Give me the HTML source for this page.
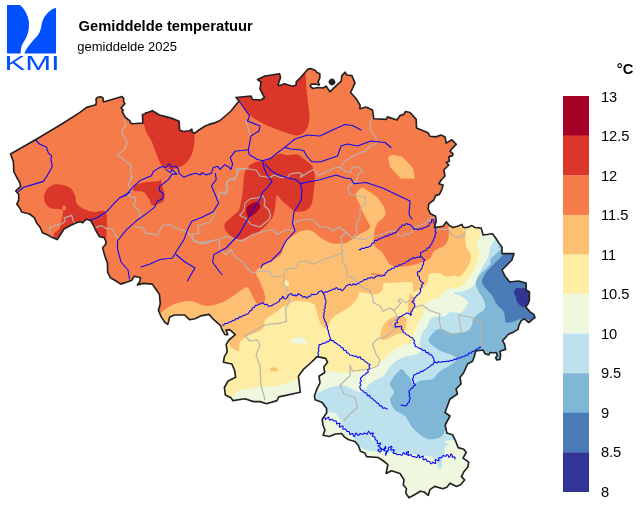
<!DOCTYPE html>
<html lang="nl"><head><meta charset="utf-8"><title>Gemiddelde temperatuur</title>
<style>
html,body{margin:0;padding:0;background:#fff;}
body{width:640px;height:507px;overflow:hidden;position:relative;font-family:"Liberation Sans",sans-serif;}
svg{position:absolute;left:0;top:0;display:block;will-change:transform}
text{font-family:"Liberation Sans",sans-serif;fill:#000}
</style></head><body>
<svg width="640" height="507" viewBox="0 0 640 507">
<rect width="640" height="507" fill="#fff"/>
<defs><clipPath id="be"><path d="M10.5 154.0 L35.0 140.0 L61.0 124.5 L80.0 112.4 L86.6 107.4 L95.9 104.7 L96.4 101.4 L95.9 99.2 L97.5 97.3 L100.8 96.8 L103.0 97.9 L103.5 102.0 L122.1 96.5 L123.8 98.7 L123.5 101.4 L124.9 103.6 L121.0 108.0 L123.2 110.2 L122.1 111.8 L123.8 114.5 L125.4 117.3 L128.1 119.5 L129.8 120.6 L130.3 122.7 L132.5 123.8 L142.9 123.1 L142.4 114.5 L145.1 114.0 L145.6 112.9 L148.4 112.3 L152.3 110.7 L159.4 115.0 L165.7 116.6 L173.6 118.9 L179.1 121.3 L179.6 130.0 L183.1 131.5 L189.4 130.8 L191.8 129.2 L192.2 132.3 L194.9 133.1 L198.9 130.0 L205.2 126.0 L209.1 124.4 L214.6 122.9 L220.0 120.5 L231.0 111.0 L239.0 101.0 L236.0 97.5 L251.0 96.0 L252.5 99.5 L261.0 100.0 L264.5 97.5 L260.0 89.0 L261.0 82.0 L257.5 79.5 L265.0 76.0 L279.5 73.7 L280.5 77.5 L278.0 85.0 L280.0 85.6 L284.4 83.8 L292.5 86.2 L296.2 85.0 L296.2 81.9 L300.6 77.5 L305.0 72.5 L307.5 69.4 L310.6 68.5 L315.6 70.6 L316.9 72.5 L319.8 73.8 L319.8 78.1 L318.1 81.9 L319.4 85.0 L315.0 84.0 L311.0 84.2 L310.3 86.3 L313.0 88.5 L318.0 87.5 L323.0 88.0 L326.2 86.2 L330.0 91.9 L335.0 86.9 L341.2 81.2 L341.9 75.6 L345.0 72.2 L346.9 75.0 L351.9 75.6 L355.0 83.1 L350.6 92.5 L356.2 98.8 L360.0 105.0 L360.0 108.8 L366.0 107.0 L372.5 110.0 L373.8 118.8 L386.2 119.4 L387.5 116.9 L396.9 120.0 L400.0 115.6 L403.8 114.4 L405.6 111.5 L410.0 112.5 L416.2 119.4 L416.5 128.1 L428.1 132.8 L429.8 136.2 L435.6 136.9 L441.2 135.0 L445.0 136.9 L446.2 143.1 L451.9 139.8 L456.2 144.4 L452.5 148.1 L450.0 151.2 L453.1 153.8 L452.5 155.6 L448.8 156.9 L449.4 161.2 L446.2 162.5 L448.8 165.0 L443.8 170.0 L445.0 176.0 L441.2 180.0 L438.8 183.8 L443.1 185.0 L441.9 189.4 L439.4 194.4 L435.6 195.6 L433.8 200.0 L428.8 203.8 L428.1 208.8 L430.6 213.8 L435.6 216.2 L436.2 221.2 L434.4 227.5 L438.8 226.9 L443.1 226.2 L446.2 221.9 L449.4 225.6 L453.1 227.5 L457.5 226.2 L461.9 224.4 L463.1 227.5 L467.5 227.5 L471.9 225.6 L475.0 227.5 L481.2 228.1 L483.1 235.0 L492.5 233.8 L496.2 238.8 L498.8 243.0 L502.0 247.0 L502.0 253.6 L514.0 253.6 L511.9 260.0 L502.0 270.0 L505.3 276.6 L509.7 282.0 L518.4 281.0 L526.1 283.0 L526.1 289.7 L529.4 291.9 L529.4 298.4 L529.4 300.0 L528.1 303.8 L525.6 306.9 L530.0 311.9 L533.8 314.4 L535.0 317.5 L532.5 319.4 L528.8 322.5 L524.4 318.8 L521.2 320.6 L518.8 325.6 L518.1 329.4 L513.8 331.9 L508.1 334.4 L505.6 337.5 L502.5 340.6 L504.4 343.8 L505.6 349.4 L500.0 351.2 L500.6 355.6 L500.0 359.4 L496.9 360.0 L495.6 357.5 L497.5 355.6 L496.2 352.5 L493.1 352.8 L490.0 352.5 L488.8 355.0 L485.0 353.8 L483.1 350.0 L475.6 351.0 L474.4 356.2 L472.5 361.2 L467.5 364.0 L463.8 372.5 L460.0 377.5 L461.0 384.0 L456.0 389.0 L457.5 394.0 L450.0 399.0 L445.0 412.5 L450.0 416.0 L445.2 425.0 L446.8 433.0 L452.5 434.7 L455.7 441.2 L458.2 447.6 L463.8 449.2 L466.2 452.5 L463.0 458.1 L468.7 462.2 L467.9 467.0 L463.8 471.8 L461.4 476.7 L464.6 479.9 L460.6 484.8 L456.5 486.4 L450.1 483.2 L446.8 487.2 L442.8 488.8 L434.7 486.4 L429.9 489.6 L428.3 495.3 L424.2 492.0 L420.2 491.2 L413.7 495.3 L408.9 497.7 L405.7 492.9 L406.5 488.8 L403.2 484.8 L404.0 479.9 L400.0 473.5 L391.5 470.8 L386.1 473.5 L387.0 469.0 L387.9 464.6 L383.5 461.0 L378.1 457.5 L366.6 456.6 L364.8 453.0 L360.4 451.3 L358.6 445.9 L355.1 441.5 L348.8 439.7 L344.4 437.1 L341.7 433.5 L335.5 434.0 L329.3 436.5 L323.1 435.3 L324.9 430.0 L323.1 425.5 L322.2 419.3 L326.6 413.1 L326.6 408.6 L322.2 402.4 L315.1 399.8 L314.4 396.0 L317.2 388.4 L320.0 382.8 L319.0 376.2 L324.7 372.5 L323.8 366.9 L327.5 362.2 L325.6 358.4 L317.2 356.6 L310.6 363.0 L303.1 369.7 L298.4 376.2 L300.3 392.2 L278.8 396.9 L276.9 400.6 L266.6 403.8 L260.0 401.6 L253.4 401.6 L245.0 398.8 L232.8 400.6 L231.0 397.8 L225.3 395.0 L224.4 387.5 L228.1 381.0 L235.6 377.2 L234.7 370.6 L231.9 364.0 L223.4 362.2 L224.4 356.6 L227.2 351.9 L226.2 344.4 L229.0 340.0 L235.3 334.7 L229.7 329.6 L226.0 330.0 L227.8 334.7 L225.0 334.7 L222.2 330.0 L220.3 325.3 L213.8 319.7 L209.0 314.4 L200.6 315.9 L195.0 318.8 L189.4 319.7 L184.7 315.0 L174.4 315.0 L169.7 316.9 L167.8 324.4 L165.0 322.5 L161.2 316.9 L158.4 310.3 L160.3 303.8 L159.4 294.4 L156.2 289.7 L152.3 284.1 L143.6 283.4 L137.3 284.9 L139.7 281.8 L140.5 277.8 L134.2 276.3 L131.8 280.2 L127.9 281.8 L120.8 284.1 L116.0 281.0 L110.5 277.8 L107.7 272.3 L107.4 262.9 L105.0 256.5 L102.6 247.9 L105.8 243.9 L105.8 240.8 L104.2 237.6 L99.5 236.8 L97.1 232.9 L93.2 225.0 L90.7 220.5 L86.0 219.2 L82.8 222.8 L80.5 221.7 L76.5 222.8 L71.0 225.2 L64.0 229.0 L61.5 233.0 L57.2 239.6 L52.3 237.6 L47.3 234.7 L42.4 232.7 L40.4 227.8 L36.5 222.8 L34.5 217.9 L29.6 214.0 L21.7 212.0 L19.7 208.0 L16.8 204.1 L18.7 200.2 L18.7 194.2 L15.8 190.9 L20.7 186.4 L19.7 182.4 L16.8 177.5 L13.8 171.6 L13.4 161.7Z"/></clipPath></defs>
<g clip-path="url(#be)">
<rect x="0" y="60" width="560" height="447" fill="#f67b4a"/>
<path d="M236.5 99.0 C239.0 104.4 238.8 101.1 240.0 102.5 C241.2 103.9 242.2 105.7 243.6 107.6 C245.0 109.5 246.5 112.1 248.3 113.9 C250.1 115.8 252.7 117.4 254.6 118.7 C256.6 120.0 258.1 120.8 260.0 121.8 C261.9 122.8 261.8 123.2 266.0 125.0 C270.2 126.8 279.8 130.8 285.0 132.5 C290.2 134.2 294.0 135.9 297.5 135.5 C301.0 135.1 304.0 132.8 306.0 130.0 C308.0 127.2 309.1 123.3 309.5 119.0 C309.9 114.7 308.7 108.8 308.2 104.0 C307.7 99.2 307.0 95.0 306.6 90.0 C306.2 85.0 305.8 79.8 305.6 74.0 C305.4 68.2 311.7 60.7 305.4 55.0 C299.1 49.3 281.4 37.5 268.0 40.0 C254.6 42.5 230.2 60.2 225.0 70.0 C219.8 79.8 234.0 93.6 236.5 99.0Z" fill="#da372a"/>
<path d="M143.7 105.0 C135.5 108.9 143.9 122.4 145.2 128.4 C146.5 134.4 149.7 136.8 151.5 141.0 C153.3 145.2 154.9 149.9 156.3 153.6 C157.8 157.3 158.9 160.9 160.2 163.1 C161.5 165.3 162.5 165.9 164.2 167.0 C165.9 168.1 168.4 169.2 170.5 169.4 C172.6 169.6 174.7 168.8 176.8 168.1 C178.9 167.4 181.1 166.8 183.1 165.5 C185.1 164.2 187.0 162.2 188.6 160.0 C190.2 157.8 191.6 155.2 192.6 152.0 C193.6 148.8 194.1 145.0 194.4 141.0 C194.7 137.0 194.6 134.0 194.6 128.0 C194.6 122.0 203.1 108.8 194.6 105.0 C186.1 101.2 151.9 101.1 143.7 105.0Z" fill="#da372a"/>
<path d="M244.4 173.4 C245.2 170.4 246.4 168.3 248.4 166.3 C250.4 164.3 253.4 162.5 256.3 161.6 C259.2 160.7 263.1 161.5 265.7 160.8 C268.3 160.1 269.6 158.8 272.0 157.6 C274.4 156.4 277.4 154.1 280.0 153.7 C282.6 153.3 284.9 155.2 287.8 155.3 C290.7 155.4 294.4 153.7 297.3 154.5 C300.2 155.3 302.7 158.0 305.2 160.0 C307.7 162.0 310.7 163.8 312.3 166.3 C313.9 168.8 314.3 171.7 314.6 175.0 C314.9 178.3 314.7 181.5 314.3 186.0 C313.9 190.5 313.2 198.1 312.3 201.8 C311.4 205.5 310.6 206.4 309.1 208.0 C307.7 209.6 306.0 210.7 303.6 211.2 C301.2 211.7 297.5 212.1 294.9 211.2 C292.3 210.3 289.9 207.4 287.8 205.7 C285.7 204.0 284.1 202.7 282.3 201.0 C280.5 199.3 277.9 194.8 276.8 195.5 C275.7 196.2 276.0 201.8 275.5 205.0 C275.0 208.2 274.5 211.7 273.6 214.4 C272.7 217.1 272.3 218.2 270.0 221.0 C267.7 223.8 263.8 228.3 260.0 231.0 C256.2 233.7 251.2 235.6 247.5 237.0 C243.8 238.4 240.8 240.2 237.5 239.5 C234.2 238.8 229.7 235.5 227.5 233.0 C225.3 230.5 223.7 227.3 224.5 224.5 C225.3 221.7 230.2 218.5 232.6 216.0 C235.0 213.5 237.4 212.9 239.0 209.7 C240.6 206.5 241.3 201.2 242.0 197.0 C242.7 192.8 242.9 188.3 243.3 184.4 C243.7 180.5 243.6 176.4 244.4 173.4Z" fill="#da372a"/>
<path d="M44.2 196.0 C44.6 193.3 45.9 190.0 48.0 188.0 C50.1 186.0 53.2 184.3 56.8 184.2 C60.4 184.1 66.4 185.6 69.4 187.4 C72.4 189.2 73.8 192.6 75.0 195.2 C76.2 197.8 75.3 201.0 76.5 203.1 C77.7 205.2 79.2 206.4 82.0 207.9 C84.8 209.4 89.1 211.1 93.1 211.8 C97.0 212.5 103.5 208.9 105.7 212.3 C107.9 215.7 106.4 227.9 106.5 232.0 C106.6 236.1 107.2 235.6 106.3 237.0 C105.4 238.4 102.9 239.8 101.0 240.5 C99.1 241.2 96.8 242.8 95.0 241.0 C93.2 239.2 91.5 232.5 90.0 230.0 C88.5 227.5 89.3 225.7 86.0 226.0 C82.7 226.3 74.8 228.8 70.0 232.0 C65.2 235.2 59.7 244.6 57.0 245.0 C54.3 245.4 53.3 237.3 53.7 234.7 C54.1 232.0 57.9 231.5 59.2 229.1 C60.5 226.7 60.9 223.4 61.5 220.5 C62.1 217.6 63.1 213.7 63.1 211.8 C63.1 210.0 63.4 209.9 61.5 209.4 C59.6 208.9 54.6 209.5 52.0 208.6 C49.4 207.7 47.1 206.0 45.8 203.9 C44.5 201.8 43.8 198.7 44.2 196.0Z" fill="#da372a"/>
<path d="M62.2 207.0 C62.4 206.3 63.4 205.6 64.0 205.6 C64.6 205.6 65.8 206.3 66.0 207.0 C66.2 207.7 66.0 209.0 65.5 209.5 C65.0 210.0 63.5 210.4 63.0 210.0 C62.5 209.6 62.0 207.7 62.2 207.0Z" fill="#f67b4a"/>
<path d="M133.4 190.5 C133.0 189.6 133.3 187.1 135.0 185.8 C136.7 184.5 139.8 183.4 143.7 182.6 C147.6 181.8 155.7 181.7 158.6 181.0 C161.5 180.3 160.5 178.0 161.0 178.7 C161.5 179.4 161.3 182.8 161.8 185.0 C162.3 187.2 163.8 189.5 164.2 192.0 C164.6 194.5 164.9 198.2 164.2 200.0 C163.5 201.8 162.2 202.2 160.2 203.1 C158.2 204.0 154.1 206.2 152.3 205.5 C150.5 204.8 150.6 201.4 149.2 199.2 C147.8 196.9 145.7 193.3 143.7 192.0 C141.7 190.7 139.1 191.6 137.4 191.3 C135.7 191.1 133.8 191.4 133.4 190.5Z" fill="#da372a"/>
<path d="M246.8 207.3 C247.7 205.7 250.6 204.3 252.3 203.4 C254.0 202.5 255.7 201.7 257.0 202.0 C258.3 202.3 259.8 203.8 260.2 205.0 C260.6 206.2 260.4 207.3 259.4 208.9 C258.3 210.5 255.7 213.1 253.9 214.4 C252.1 215.7 249.6 217.1 248.4 216.8 C247.2 216.5 247.1 214.4 246.8 212.8 C246.5 211.2 245.9 208.9 246.8 207.3Z" fill="#a50026"/>
<path d="M150.0 322.0 C160.2 287.4 157.2 315.3 161.0 312.5 C164.8 309.7 167.7 306.9 172.5 305.0 C177.3 303.1 184.2 300.8 190.0 301.0 C195.8 301.2 201.7 306.0 207.5 306.0 C213.3 306.0 219.6 303.5 225.0 301.0 C230.4 298.5 236.2 293.2 240.0 291.0 C243.8 288.8 245.2 286.2 247.5 287.5 C249.8 288.8 252.3 296.2 254.0 299.0 C255.7 301.8 256.2 303.2 257.5 304.0 C258.8 304.8 260.8 304.8 262.0 304.0 C263.2 303.2 264.7 301.5 265.0 299.5 C265.3 297.5 264.8 294.9 264.0 292.0 C263.2 289.1 261.3 285.2 260.0 282.0 C258.7 278.8 256.2 275.3 256.0 273.0 C255.8 270.7 256.7 269.8 259.0 268.0 C261.3 266.2 266.3 264.2 270.0 262.0 C273.7 259.8 278.5 257.7 281.0 254.5 C283.5 251.3 283.1 246.1 285.0 243.0 C286.9 239.9 290.0 237.9 292.5 236.0 C295.0 234.1 297.4 232.5 300.0 231.5 C302.6 230.5 305.5 229.8 307.9 229.9 C310.3 230.0 312.1 231.0 314.2 232.3 C316.3 233.6 317.6 236.0 320.5 237.8 C323.4 239.6 327.6 242.4 331.5 243.3 C335.4 244.2 341.0 243.8 344.2 243.3 C347.4 242.8 347.9 241.8 350.5 240.2 C353.1 238.6 357.0 235.6 359.9 233.9 C362.8 232.2 366.1 231.2 367.8 229.9 C369.5 228.6 370.2 227.3 370.2 226.0 C370.2 224.7 368.7 223.7 367.8 222.0 C366.9 220.3 365.8 217.8 364.7 215.7 C363.6 213.6 362.4 211.5 361.5 209.4 C360.6 207.3 360.0 205.2 359.1 203.1 C358.2 201.0 356.5 198.4 356.0 196.8 C355.5 195.2 355.4 195.0 356.0 193.7 C356.6 192.4 358.7 189.9 359.9 188.9 C361.1 187.9 362.1 187.6 363.1 187.7 C364.2 187.8 364.9 188.8 366.2 189.7 C367.5 190.6 369.4 191.8 371.0 192.9 C372.6 194.0 374.3 194.8 375.7 196.0 C377.1 197.2 378.1 198.0 379.5 200.0 C380.9 202.0 383.3 205.3 384.2 207.9 C385.1 210.5 386.2 213.2 385.0 215.8 C383.8 218.4 379.0 220.5 377.1 223.7 C375.2 226.8 374.3 231.0 373.9 234.7 C373.5 238.4 373.4 242.8 374.7 245.7 C376.0 248.6 379.7 249.5 381.8 252.0 C383.9 254.5 385.9 258.6 387.4 260.7 C388.8 262.8 388.7 263.7 390.5 264.7 C392.3 265.7 395.4 266.4 398.0 266.6 C400.6 266.9 403.6 266.5 406.3 266.2 C409.0 265.9 411.4 265.3 414.0 264.7 C416.6 264.1 419.4 263.4 422.0 262.3 C424.6 261.2 427.8 260.4 429.9 258.4 C432.0 256.4 432.3 252.6 434.7 250.5 C437.1 248.4 441.9 247.5 444.1 245.7 C446.3 243.8 447.3 241.8 448.1 239.4 C448.9 237.0 448.9 233.7 448.9 231.5 C448.9 229.3 448.3 228.2 448.1 226.0 C447.9 223.8 428.9 219.3 447.5 218.0 C466.1 216.7 541.2 167.7 560.0 218.0 C578.8 268.3 636.7 469.7 560.0 520.0 C483.3 570.3 168.3 553.0 100.0 520.0 C31.7 487.0 139.8 356.6 150.0 322.0Z" fill="#fdbf71"/>
<path d="M388.1 158.6 L389.5 155.8 L392.3 154.8 L402.2 156.7 L409.7 164.2 L413.0 168.4 L414.8 176.9 L413.9 178.8 L401.2 178.8 L390.0 167.0 L389.0 161.9Z" fill="#fdbf71"/>
<path d="M283.4 283.4 C283.5 282.3 284.9 280.4 285.8 280.3 C286.7 280.2 288.5 281.6 288.9 282.6 C289.3 283.7 288.8 285.9 288.1 286.6 C287.5 287.3 285.8 287.1 285.0 286.6 C284.2 286.1 283.3 284.4 283.4 283.4Z" fill="#feeea5"/>
<path d="M371.0 273.0 L383.0 274.2 L383.0 275.6 L371.0 274.4Z" fill="#f67b4a"/>
<path d="M220.0 344.0 C225.2 315.2 228.5 346.5 231.0 347.5 C233.5 348.5 233.7 349.4 235.0 350.0 C236.3 350.6 238.2 352.2 239.0 351.0 C239.8 349.8 238.6 345.0 240.0 342.5 C241.4 340.0 243.8 338.2 247.5 336.0 C251.2 333.8 259.6 331.7 262.5 329.0 C265.4 326.3 263.8 322.1 265.0 320.0 C266.2 317.9 267.6 318.3 270.0 316.5 C272.4 314.7 276.1 311.6 279.5 309.4 C282.9 307.1 287.6 304.4 290.5 303.0 C293.4 301.6 293.7 301.1 296.8 301.0 C299.9 300.9 306.4 301.6 309.4 302.3 C312.4 303.1 313.7 303.6 315.0 305.5 C316.3 307.4 316.4 311.0 317.3 314.0 C318.2 317.0 319.3 321.2 320.5 323.6 C321.7 326.0 323.2 327.9 324.4 328.4 C325.6 328.9 326.6 328.1 327.6 326.8 C328.7 325.5 329.3 322.5 330.7 320.5 C332.1 318.5 333.7 316.9 336.2 315.0 C338.7 313.1 342.8 311.4 345.7 309.4 C348.6 307.4 351.5 305.2 353.6 303.0 C355.7 300.8 357.2 297.8 358.3 296.0 C359.4 294.2 357.9 292.6 360.0 292.3 C362.1 292.0 368.1 293.7 371.0 294.0 C373.9 294.3 375.4 294.8 377.4 294.0 C379.4 293.2 381.8 290.9 382.9 289.2 C383.9 287.5 381.2 284.8 383.7 283.7 C386.2 282.6 393.3 282.6 398.0 282.5 C402.7 282.4 409.4 281.4 412.0 282.9 C414.6 284.4 411.9 290.7 413.6 291.5 C415.3 292.3 419.9 289.2 422.3 287.6 C424.7 286.0 426.6 284.2 427.8 282.0 C429.0 279.8 427.3 275.6 429.4 274.2 C431.5 272.8 437.8 273.0 440.4 273.4 C443.0 273.8 442.8 276.2 445.2 276.6 C447.6 277.0 452.3 275.8 454.6 275.8 C456.9 275.8 457.0 277.8 458.9 276.8 C460.8 275.8 464.1 272.4 466.0 269.7 C467.9 267.0 469.7 263.5 470.4 260.8 C471.1 258.1 471.1 256.1 470.4 253.7 C469.7 251.3 466.8 249.9 466.0 246.6 C465.2 243.3 465.5 238.4 465.5 234.0 C465.5 229.6 450.2 222.3 466.0 220.0 C481.8 217.7 544.3 170.0 560.0 220.0 C575.7 270.0 620.0 470.0 560.0 520.0 C500.0 570.0 256.7 549.3 200.0 520.0 C143.3 490.7 214.8 372.8 220.0 344.0Z" fill="#feeea5"/>
<path d="M380.5 334.0 C380.8 331.5 382.1 327.3 383.7 324.7 C385.3 322.1 387.4 319.8 390.0 318.4 C392.6 316.9 396.8 316.1 399.4 316.0 C402.0 315.9 404.5 316.5 405.7 317.6 C406.9 318.7 406.5 320.8 406.5 322.5 C406.5 324.2 406.3 326.1 405.7 327.8 C405.1 329.5 404.4 331.4 402.6 332.6 C400.8 333.8 397.3 333.8 394.7 334.9 C392.1 335.9 388.9 338.1 386.8 338.9 C384.7 339.7 383.1 340.3 382.0 339.5 C380.9 338.7 380.2 336.5 380.5 334.0Z" fill="#fdbf71"/>
<path d="M410.0 293.5 C410.7 293.2 412.3 294.6 413.0 296.0 C413.7 297.4 413.9 300.1 414.2 302.0 C414.4 303.9 414.9 305.6 414.5 307.5 C414.1 309.4 412.5 312.6 411.5 313.5 C410.5 314.4 408.8 314.6 408.3 313.0 C407.8 311.4 408.2 306.7 408.3 304.2 C408.4 301.7 408.7 299.8 409.0 298.0 C409.3 296.2 409.3 293.8 410.0 293.5Z" fill="#fdbf71"/>
<path d="M270.5 368.5 C271.1 367.9 272.8 367.5 274.0 367.5 C275.2 367.5 276.9 367.9 277.5 368.5 C278.1 369.1 278.7 370.6 277.5 371.0 C276.3 371.4 271.7 371.4 270.5 371.0 C269.3 370.6 269.9 369.1 270.5 368.5Z" fill="#fdbf71"/>
<path d="M225.0 400.0 C226.5 396.0 231.5 397.7 234.0 396.0 C236.5 394.3 236.1 391.4 240.0 390.0 C243.9 388.6 250.8 388.3 257.5 387.5 C264.2 386.7 273.8 386.2 280.0 385.0 C286.2 383.8 291.7 381.2 295.0 380.0 C298.3 378.8 298.5 378.7 300.0 377.5 C301.5 376.3 303.3 365.9 304.0 373.0 C304.7 380.1 317.2 412.2 304.0 420.0 C290.8 427.8 238.2 423.3 225.0 420.0 C211.8 416.7 223.5 404.0 225.0 400.0Z" fill="#eef8df"/>
<path d="M291.3 341.0 C291.6 340.1 293.2 338.3 295.2 337.8 C297.2 337.3 301.1 337.1 303.1 337.8 C305.1 338.5 307.0 340.8 307.1 341.8 C307.2 342.8 306.1 343.6 303.9 343.8 C301.7 344.1 295.8 343.8 293.7 343.3 C291.6 342.8 291.1 341.9 291.3 341.0Z" fill="#eef8df"/>
<path d="M318.0 368.0 C322.2 363.0 321.3 369.2 325.0 370.0 C328.7 370.8 333.3 372.3 340.0 372.5 C346.7 372.7 358.3 372.7 365.0 371.0 C371.7 369.3 375.8 365.5 380.0 362.5 C384.2 359.5 386.5 355.8 390.0 353.0 C393.5 350.2 397.3 347.8 401.0 346.0 C404.7 344.2 409.8 344.2 412.0 342.0 C414.2 339.8 412.9 336.2 414.0 333.0 C415.1 329.8 416.9 326.1 418.4 323.0 C419.9 319.9 421.9 317.3 423.0 314.4 C424.1 311.5 423.6 307.9 424.7 305.7 C425.8 303.5 427.0 302.3 429.4 301.0 C431.8 299.7 436.8 299.1 438.9 297.9 C441.0 296.7 440.4 295.5 442.0 294.0 C443.6 292.5 446.1 289.8 448.3 288.9 C450.5 287.9 452.7 289.1 455.3 288.3 C457.9 287.5 461.5 286.4 464.2 283.9 C466.9 281.4 469.2 276.6 471.3 273.3 C473.4 270.1 475.3 267.8 476.6 264.4 C477.9 261.0 479.3 256.1 479.3 252.8 C479.3 249.6 476.8 247.6 476.8 244.9 C476.9 242.2 479.0 239.7 479.6 236.9 C480.2 234.1 480.4 230.8 480.6 228.0 C480.8 225.2 467.8 221.3 481.0 220.0 C494.2 218.7 546.8 170.0 560.0 220.0 C573.2 270.0 603.3 470.0 560.0 520.0 C516.7 570.0 343.3 540.0 300.0 520.0 C256.7 500.0 297.0 425.3 300.0 400.0 C303.0 374.7 313.8 373.0 318.0 368.0Z" fill="#eef8df"/>
<path d="M310.0 400.0 C311.2 396.9 314.6 395.4 317.5 393.5 C320.4 391.6 324.4 389.8 327.5 388.5 C330.6 387.2 333.6 386.6 336.0 386.0 C338.4 385.4 339.7 384.7 342.0 385.0 C344.3 385.3 347.1 386.8 350.0 388.0 C352.9 389.2 356.9 391.8 359.4 392.0 C361.9 392.2 363.1 390.5 365.0 389.0 C366.9 387.5 368.5 384.6 370.5 383.0 C372.5 381.4 374.8 380.7 377.0 379.5 C379.2 378.3 381.8 377.6 383.5 376.0 C385.2 374.4 386.1 371.9 387.5 370.0 C388.9 368.1 390.3 366.1 392.0 364.5 C393.7 362.9 395.3 361.6 397.5 360.3 C399.7 359.0 402.6 357.5 405.0 356.7 C407.4 355.9 409.8 355.8 412.0 355.3 C414.2 354.8 416.5 354.5 418.0 353.5 C419.5 352.5 420.7 351.1 421.0 349.5 C421.3 347.9 420.1 345.7 420.0 344.0 C419.9 342.3 419.8 341.6 420.3 339.4 C420.8 337.2 422.0 332.9 423.0 331.0 C424.0 329.1 424.9 329.9 426.2 327.8 C427.5 325.7 429.0 320.3 431.0 318.4 C433.0 316.5 435.5 316.9 438.0 316.5 C440.5 316.1 444.0 316.8 446.0 316.0 C448.0 315.2 447.7 312.5 450.0 312.0 C452.3 311.5 457.7 313.2 460.0 312.8 C462.3 312.4 462.4 311.2 463.8 309.4 C465.1 307.5 468.3 303.9 467.8 301.7 C467.3 299.5 462.9 297.8 460.7 296.3 C458.5 294.8 453.8 293.7 454.4 292.8 C455.0 291.9 460.9 292.2 464.2 291.0 C467.5 289.8 471.6 288.4 474.0 285.7 C476.4 283.0 476.9 278.2 478.4 275.0 C479.9 271.8 481.2 269.1 482.8 266.2 C484.4 263.2 487.0 260.3 488.2 257.3 C489.4 254.3 489.0 251.2 490.0 248.4 C491.0 245.6 492.7 242.5 494.4 240.4 C496.1 238.3 489.1 236.7 500.0 236.0 C510.9 235.3 550.0 202.0 560.0 236.0 C570.0 270.0 577.7 406.0 560.0 440.0 C542.3 474.0 472.6 439.3 454.0 440.0 C435.4 440.7 450.0 443.1 448.5 444.4 C447.0 445.7 445.7 445.8 445.0 447.6 C444.3 449.4 444.8 453.0 444.4 455.0 C443.9 457.0 442.7 457.7 442.3 459.7 C441.9 461.7 442.4 465.5 442.0 467.0 C441.6 468.5 440.4 468.7 439.6 468.6 C438.9 468.5 437.9 467.7 437.5 466.2 C437.1 464.7 438.3 461.3 437.2 459.7 C436.1 458.1 433.4 457.2 430.7 456.5 C428.0 455.8 424.5 456.2 421.0 455.7 C417.5 455.2 414.0 453.8 409.7 453.3 C405.4 452.9 401.2 453.4 395.0 453.0 C388.8 452.6 378.2 451.9 372.5 451.0 C366.8 450.1 364.3 450.0 361.0 447.5 C357.7 445.0 355.6 439.9 352.5 436.0 C349.4 432.1 345.2 427.7 342.5 424.0 C339.8 420.3 338.5 415.9 336.0 414.0 C333.5 412.1 331.8 412.8 327.5 412.5 C323.2 412.2 312.9 414.1 310.0 412.0 C307.1 409.9 308.8 403.1 310.0 400.0Z" fill="#bde2ee"/>
<path d="M369.0 434.0 L372.0 434.0 L375.0 440.0 L372.0 440.0Z" fill="#eef8df"/>
<path d="M454.0 292.0 L460.0 292.0 L460.0 294.0 L454.0 294.0Z" fill="#bde2ee"/>
<path d="M503.0 246.0 C493.1 246.6 501.9 247.9 500.6 249.3 C499.3 250.7 496.9 253.0 495.3 254.6 C493.7 256.2 491.7 257.4 490.8 259.0 C489.9 260.6 491.2 262.3 489.9 264.4 C488.6 266.5 484.7 269.4 482.8 271.5 C480.9 273.6 479.6 274.7 478.4 276.8 C477.2 278.9 475.5 281.2 475.7 283.9 C475.9 286.6 478.0 290.1 479.3 292.8 C480.6 295.5 482.8 297.2 483.7 299.9 C484.6 302.6 486.2 305.9 484.6 308.8 C483.0 311.7 476.1 314.9 474.0 317.5 C471.9 320.1 473.1 322.4 472.0 324.7 C470.9 326.9 470.5 329.6 467.3 331.0 C464.1 332.4 457.5 333.8 453.0 333.4 C448.5 333.0 443.9 328.7 440.5 328.7 C437.1 328.7 434.6 331.4 432.6 333.4 C430.6 335.4 428.3 338.3 428.6 340.5 C428.9 342.7 432.0 345.0 434.2 346.8 C436.4 348.6 439.1 350.2 442.0 351.5 C444.9 352.8 449.1 353.5 451.5 354.7 C453.9 355.9 455.9 357.2 456.2 358.6 C456.4 360.1 455.1 361.7 453.0 363.4 C450.9 365.1 446.2 367.2 443.6 368.9 C441.0 370.6 439.1 371.9 437.3 373.6 C435.5 375.3 435.5 377.8 432.6 379.0 C429.7 380.2 423.0 379.8 420.0 380.7 C417.0 381.6 415.7 384.3 414.4 384.7 C413.1 385.1 412.7 384.1 412.0 383.0 C411.3 381.9 411.0 379.6 410.0 378.0 C409.0 376.4 407.2 375.1 405.8 373.6 C404.4 372.1 403.4 368.9 401.8 368.9 C400.2 368.9 398.0 371.8 396.3 373.6 C394.6 375.5 392.7 378.1 391.6 380.0 C390.6 381.9 389.6 382.9 390.0 385.0 C390.4 387.1 394.0 390.0 394.0 392.5 C394.0 395.0 389.8 397.1 390.0 400.0 C390.2 402.9 392.5 407.3 395.0 410.0 C397.5 412.7 402.4 413.5 405.0 416.0 C407.6 418.5 408.9 422.7 410.5 425.0 C412.1 427.3 412.8 428.1 414.5 429.8 C416.2 431.6 418.6 433.9 421.0 435.5 C423.4 437.1 426.0 438.8 429.0 439.2 C432.0 439.6 436.4 438.8 438.8 437.9 C441.2 437.0 442.2 435.3 443.6 433.9 C445.0 432.5 442.6 430.5 447.0 429.5 C451.4 428.5 451.2 428.2 470.0 428.0 C488.8 427.8 545.0 458.3 560.0 428.0 C575.0 397.7 569.5 276.3 560.0 246.0 C550.5 215.7 512.9 245.4 503.0 246.0Z" fill="#80b7d6"/>
<path d="M508.0 250.0 C498.6 250.8 505.0 252.9 503.3 254.6 C501.6 256.3 499.9 258.1 498.0 260.0 C496.1 261.9 493.8 264.0 491.7 266.2 C489.6 268.4 487.1 270.6 485.5 273.3 C483.9 276.0 481.7 279.3 482.0 282.1 C482.3 284.9 485.5 287.7 487.3 290.1 C489.1 292.5 491.1 294.1 492.6 296.3 C494.1 298.5 494.7 301.3 496.2 303.4 C497.7 305.5 500.2 307.3 501.5 308.8 C502.8 310.3 503.4 311.0 504.0 312.5 C504.6 314.0 504.7 316.3 505.0 318.0 C505.3 319.7 504.8 321.8 506.0 322.5 C507.2 323.2 510.1 322.4 512.0 322.0 C513.9 321.6 515.5 320.5 517.5 320.0 C519.5 319.5 516.9 319.2 524.0 319.0 C531.1 318.8 554.0 330.5 560.0 319.0 C566.0 307.5 568.7 261.5 560.0 250.0 C551.3 238.5 517.5 249.2 508.0 250.0Z" fill="#4a7bb7"/>
<path d="M513.9 292.8 C514.0 291.5 515.1 289.1 516.6 288.3 C518.1 287.5 518.9 288.1 522.8 288.2 C526.7 288.3 537.1 286.0 540.0 289.0 C542.9 292.0 542.1 303.2 540.0 306.0 C537.9 308.8 530.1 305.8 527.2 306.0 C524.3 306.2 524.4 307.6 522.8 307.0 C521.2 306.4 518.7 304.3 517.5 302.5 C516.3 300.7 516.3 297.9 515.7 296.3 C515.1 294.7 513.8 294.1 513.9 292.8Z" fill="#313695"/>
<g fill="none" stroke="#b9b3ae" stroke-width="1.15" stroke-linejoin="round" stroke-linecap="round">
<path d="M124.0 119.0 L125.5 126.0 L122.4 129.2 L122.4 133.9 L127.1 141.8 L123.9 150.5 L117.0 154.5 L127.1 162.3 L131.8 166.2 L130.3 171.0 L132.6 177.3 L131.0 180.0 L131.8 176.3 L127.9 185.0 L131.8 188.9 L128.7 196.0 L135.0 197.6 L135.8 201.5 L133.4 205.5 L139.7 211.0 L138.9 215.0 L141.3 217.3"/>
<path d="M49.7 233.0 L49.7 227.6 L53.7 226.0 L62.3 223.6 L65.5 220.5 L64.0 218.0 L71.8 215.4 L73.4 221.3 L75.0 222.8"/>
<path d="M95.5 227.6 L101.0 225.5 L106.5 228.7 L112.0 228.7 L116.0 236.2 L118.3 237.0"/>
<path d="M246.0 121.0 L250.0 135.0"/>
<path d="M226.0 185.0 L229.0 180.0 L236.0 177.5 L239.0 169.0 L247.5 169.0 L256.0 170.0 L260.0 176.0 L270.0 177.5 L274.0 175.0 L280.0 177.5 L287.5 177.5 L290.0 174.0 L298.9 172.6 L302.0 174.2 L300.4 177.3 L305.2 174.2 L313.1 169.4 L317.8 174.2 L320.0 175.0 L327.5 171.0 L336.0 167.5 L340.0 167.5 L345.0 161.0 L355.0 155.0 L365.0 151.0 L370.0 146.0 L376.0 143.8 L376.0 137.5 L370.0 128.8 L371.0 120.0 L373.0 117.0"/>
<path d="M340.0 167.5 L345.0 171.0 L351.0 172.5 L352.5 167.0 L358.8 167.0 L362.5 171.0 L357.5 175.0 L357.5 178.8 L351.0 185.0 L347.5 187.0 L350.0 194.5 L365.0 197.0 L366.0 202.0 L360.0 209.5 L360.0 217.0 L356.0 224.5 L357.5 233.0 L352.5 238.0 L346.0 232.0 L339.0 227.0 L332.5 231.0 L327.5 227.0 L320.0 227.0 L312.5 219.5 L305.0 219.5 L294.0 222.0 L294.0 231.0 L286.0 229.5 L277.5 234.5 L272.5 229.5 L265.0 231.0 L252.5 234.5 L242.5 241.0 L235.0 239.5 L227.5 236.0 L219.0 239.5 L200.0 242.5 L192.5 239.5 L187.5 231.5 L179.0 229.5 L170.0 224.5 L162.6 225.2 L157.1 235.5 L152.3 233.9 L145.2 233.1 L142.9 227.6 L134.2 226.8"/>
<path d="M220.0 191.5 L225.5 194.7 L227.9 190.7 L226.3 182.0 L230.3 179.0 L235.0 179.7 L237.4 172.6 L235.8 168.7 L242.0 168.7 L248.4 167.9"/>
<path d="M226.0 185.0 L227.5 187.0 L226.0 192.0 L219.0 193.0 L219.0 198.0"/>
<path d="M216.0 212.0 L210.0 222.0 L197.5 226.0 L199.0 233.0 L191.0 234.5 L192.6 234.7 L193.4 241.0 L198.9 243.3 L206.8 243.3 L214.6 240.2 L219.0 239.5"/>
<path d="M239.7 215.2 L243.7 211.2 L245.2 202.6 L250.8 198.6 L257.9 197.8 L262.6 195.5 L265.0 200.2 L264.2 205.7 L268.9 209.7 L270.5 216.0 L269.0 219.5 L260.0 227.0 L251.0 224.5 L246.0 218.4 L239.7 215.2"/>
<path d="M219.0 239.5 L220.0 249.5 L226.0 254.5 L231.0 249.5 L235.0 257.0 L242.5 262.0 L246.0 267.0 L252.5 273.0 L260.0 271.0 L270.0 272.0 L272.5 277.0 L284.0 276.0 L285.0 269.5 L296.0 268.0 L299.0 262.0 L307.5 261.0 L312.5 264.5 L320.0 261.0 L342.5 253.0 L341.0 237.0 L346.0 232.0"/>
<path d="M284.0 276.0 L284.2 279.5 L283.4 285.0 L287.4 287.4 L285.8 293.7 L289.7 298.4 L288.1 304.7 L285.8 307.9 L285.8 315.7 L286.6 321.3 L277.9 323.6 L270.0 324.0 L262.5 326.0 L245.0 336.0 L250.0 341.0 L257.5 340.0 L260.0 345.0 L256.0 355.0 L260.0 366.0 L261.0 385.0 L265.0 400.0"/>
<path d="M352.5 238.0 L365.0 239.5 L370.0 236.3 L379.5 235.5 L388.9 231.5 L395.2 230.8 L398.4 235.5 L403.9 236.3 L405.5 233.1 L407.9 234.7 L412.6 231.5 L413.4 227.6 L417.3 226.8 L425.2 222.9 L431.5 217.4 L434.0 217.0"/>
<path d="M435.5 229.2 L442.6 229.2 L448.9 230.0 L452.0 235.5 L456.0 237.1 L462.3 237.1 L465.4 231.5 L464.7 228.0"/>
<path d="M342.5 253.0 L342.5 262.0 L347.3 270.0 L347.3 276.3 L353.6 277.9 L356.8 281.8 L360.7 285.8 L363.2 288.4 L368.7 289.2 L372.6 296.3 L373.4 302.6 L380.5 306.5 L382.9 311.3 L390.0 308.1 L393.9 310.5 L397.9 306.5 L401.0 302.6 L397.9 301.0 L400.2 298.6 L405.7 302.6 L412.0 299.4"/>
<path d="M393.9 310.5 L397.0 316.0 L395.5 320.0 L390.0 322.3 L390.8 325.5 L396.3 328.6 L390.8 332.6 L383.7 337.3 L377.4 338.9 L372.5 344.0 L376.0 354.0 L380.0 360.0 L377.5 366.0 L370.0 369.0 L352.5 371.0 L350.0 365.0 L350.0 376.0 L340.0 385.0 L343.8 394.0 L355.0 397.5 L357.5 407.5 L350.0 414.0 L343.8 421.0"/>
<path d="M415.2 307.3 L422.3 305.0 L429.4 310.5 L434.1 312.0 L440.0 313.8 L438.8 318.8 L441.0 328.8 L445.0 333.8 L452.5 334.5 L461.0 332.5 L460.0 322.5 L458.8 315.0 L472.5 317.5 L481.0 322.5 L481.0 345.0 L484.0 347.0"/>
</g>
<g fill="none" stroke="#0c0af2" stroke-width="1.1" stroke-linejoin="round" stroke-linecap="round">
<path d="M35.5 140.0 L39.4 144.0 L46.4 146.9 L48.3 152.8 L51.7 155.8 L50.9 159.7 L52.3 166.6 L47.3 175.5 L43.4 181.4 L33.5 184.4 L23.7 187.3 L18.7 191.3"/>
<path d="M120.0 197.6 L126.3 195.2 L132.6 187.4 L140.5 180.3 L147.6 177.3 L151.5 175.7 L153.1 171.8 L157.9 168.6 L162.6 166.2 L165.0 167.8 L169.7 163.9 L171.3 167.0 L176.0 166.2 L178.4 169.4 L179.1 173.3 L183.9 177.3 L189.4 174.9 L195.7 173.3 L200.4 174.9 L202.0 172.6 L206.0 174.9 L211.5 173.3 L213.1 167.8 L217.8 166.2 L220.0 169.4 L224.7 164.7 L228.7 167.0 L231.0 169.4 L232.6 164.0 L230.3 157.6 L235.0 151.3 L248.4 149.7 L249.2 154.5 L257.0 159.2 L262.6 160.8 L270.5 158.4 L278.4 152.0 L284.7 147.4 L295.0 139.0 L307.5 135.0 L320.0 136.0 L332.5 130.0 L345.0 124.5 L352.5 125.5 L361.0 130.0"/>
<path d="M90.7 220.2 L97.8 217.3 L106.5 211.8 L113.6 203.9 L119.1 198.4 L130.0 192.0"/>
<path d="M239.0 101.0 L246.0 111.0 L249.5 116.0 L247.5 121.0 L260.0 126.0 L259.0 131.0 L251.0 136.0 L248.4 149.7"/>
<path d="M284.7 147.4 L291.0 149.0 L298.9 149.7 L303.6 150.5 L306.8 156.0 L311.5 161.6 L320.0 162.0 L337.5 156.0 L341.0 146.0 L347.5 144.0 L357.5 146.0 L371.0 141.0 L385.0 142.5 L391.0 147.5"/>
<path d="M165.7 169.4 L170.5 172.6 L172.0 169.4 L176.8 174.1 L172.0 174.1 L168.9 178.9 L165.7 181.8 L159.4 186.6 L159.4 190.5 L163.4 193.7 L162.6 198.4 L157.1 201.5 L154.7 207.1 L146.8 213.4 L135.8 221.3 L126.3 229.9 L117.5 241.0 L117.5 248.9 L121.0 262.0 L128.0 270.0 L129.5 279.0"/>
<path d="M141.0 267.0 L150.0 264.0 L160.0 259.5 L172.5 258.0 L176.0 252.0 L184.0 239.5 L187.8 229.1 L191.8 221.3 L202.0 217.3 L213.1 211.8 L218.6 203.1 L215.4 195.2 L211.5 185.8 L216.2 179.5 L215.4 173.3"/>
<path d="M176.0 254.5 L185.0 262.0 L195.0 268.0 L191.0 274.5 L187.5 281.0"/>
<path d="M262.6 160.8 L264.2 168.7 L267.3 175.0 L272.0 181.3 L267.3 187.6 L262.6 192.3 L259.4 200.2 L253.9 208.0 L247.5 219.5 L239.0 234.5 L226.0 248.0 L214.0 254.5 L212.5 262.0 L219.0 271.0 L222.0 274.5"/>
<path d="M265.0 164.0 L270.5 170.2 L276.8 174.2 L287.8 178.0 L295.7 179.7 L300.4 183.6 L308.3 182.0 L320.0 179.7 L336.0 175.0 L345.0 178.0 L351.0 178.8 L353.8 183.8 L366.0 182.5 L382.5 188.0 L410.0 201.0 L409.0 214.5 L412.0 219.0"/>
<path d="M300.4 183.6 L302.0 190.7 L301.2 200.2 L294.0 212.0 L292.5 223.0 L295.0 231.0 L286.0 241.0 L280.0 252.0 L271.0 261.0 L262.5 264.5 L261.0 268.0"/>
<path d="M359.0 249.5 L360.2 249.9 L361.0 248.9 L361.8 248.1 L363.0 248.5 L364.1 248.5 L365.0 247.8 L365.9 247.4 L367.0 247.4 L368.0 247.2 L369.0 246.7 L369.9 246.3 L370.8 245.8 L371.6 245.1 L371.7 243.9 L372.4 243.1 L373.8 242.9 L374.3 242.1 L374.4 240.5 L375.5 240.3 L376.7 240.6 L377.6 240.0 L378.3 239.2 L379.3 238.9 L380.3 238.8 L381.2 238.3 L382.1 237.8 L383.0 237.4 L384.0 237.3 L384.9 236.8 L385.7 235.9 L386.6 235.7 L387.9 236.1 L388.7 235.5 L389.3 234.3 L390.3 234.2 L391.6 234.6 L392.4 234.0 L393.1 233.0 L394.1 232.9 L395.2 232.9 L396.1 232.4 L396.6 231.4 L397.3 230.7 L398.2 230.1 L398.8 229.2 L399.2 228.1 L400.1 227.5 L401.2 227.2 L401.5 226.0 L402.2 225.0 L403.4 225.3 L404.6 225.5 L405.2 224.4 L406.0 223.6 L407.1 223.7 L408.0 224.4 L409.1 224.4 L410.1 224.7 L411.0 225.2 L411.5 226.1 L412.4 226.7 L413.1 227.4 L413.4 228.5 L414.0 229.6 L415.2 228.8 L416.3 228.7 L417.4 229.7 L418.4 229.6 L419.4 228.7 L420.5 228.9 L421.5 229.2 L422.3 228.7 L423.1 228.0 L424.0 227.6 L424.9 227.5 L425.8 227.2 L426.6 226.6 L427.4 226.2 L428.5 226.1 L429.2 225.4 L429.4 224.4 L429.5 223.3 L430.5 222.8 L431.6 222.4 L431.7 221.3 L431.5 220.1 L432.4 219.6 L433.0 219.4 L433.1 219.9 L433.9 220.7 L433.9 221.7 L433.9 222.7 L434.2 223.7 L434.7 224.6 L434.9 225.5 L434.8 226.5 L435.0 227.5 L435.8 228.4 L435.8 229.4 L435.0 230.5 L435.1 231.6 L436.1 232.6 L435.8 233.6 L434.9 234.6 L435.0 235.5 L435.2 236.6 L434.6 237.5 L433.9 238.2 L433.7 239.2 L433.6 240.1 L433.2 241.0 L432.4 241.8 L431.9 242.8 L431.8 243.9 L431.1 244.7 L430.0 245.3 L429.8 246.4 L429.6 247.7 L428.4 247.9 L427.1 248.0 L426.8 249.2 L426.3 250.2 L425.2 250.5 L424.1 250.7 L423.3 251.5 L422.4 252.0 L421.4 252.3 L420.4 252.7 L420.6 253.8 L420.8 254.8 L420.3 255.8 L420.1 257.0 L421.4 257.1 L422.4 257.2 L422.8 258.2 L423.3 259.2 L424.2 259.2 L424.8 260.2 L424.1 261.1 L423.4 262.0 L423.6 263.1 L423.5 264.1 L423.0 264.9 L422.5 265.8 L422.2 266.7 L422.1 267.7 L421.8 268.5 L421.1 269.2 L420.4 269.9 L420.1 271.1 L419.3 271.7 L417.9 271.6 L417.3 272.5 L417.4 273.5 L417.7 274.0 L417.6 275.3 L418.3 276.0 L419.3 276.5 L419.5 277.5 L419.4 278.6 L419.7 279.5 L420.1 280.4 L420.8 281.0 L421.4 281.8 L422.1 282.5 L423.3 282.8 L423.1 283.9 L422.0 284.6 L421.5 285.4 L421.9 286.6 L422.0 287.6 L420.9 288.2 L420.2 289.1 L420.6 290.2 L420.7 291.2 L420.2 292.0 L419.8 292.9 L419.2 293.7 L418.5 294.4 L417.6 295.0 L416.7 295.5 L416.1 296.4 L415.5 297.2 L414.5 297.8 L413.8 298.7 L414.2 300.1 L413.7 301.0 L412.2 301.8 L412.9 302.8 L414.1 303.2 L414.6 303.9 L414.6 305.0 L414.9 305.7 L414.7 306.5 L414.3 307.4 L413.6 308.1 L412.9 308.8 L412.5 309.7 L412.3 310.6 L411.7 311.4 L410.9 312.2 L411.0 313.3 L411.4 314.5 L410.5 315.3 L410.2 313.9 L408.8 313.7 L408.0 313.3 L407.0 313.0 L406.0 313.3 L405.2 314.2 L404.3 314.5 L403.2 314.9 L402.4 315.5 L401.6 316.3 L400.7 316.8 L399.5 316.9 L398.8 317.8 L398.4 318.7 L397.7 319.4 L396.8 320.2 L397.2 321.3 L397.6 322.6 L396.2 323.0 L395.1 323.6 L394.9 324.7 L395.3 325.8 L395.4 327.1 L396.4 326.9 L397.3 326.6 L398.2 326.5 L399.2 326.6 L400.1 326.6 L401.1 326.0 L401.8 327.0 L401.4 328.2 L401.4 329.3 L402.6 329.9 L403.1 330.7 L403.1 332.0 L403.9 332.8 L405.2 333.0 L405.8 333.9 L406.5 334.7 L407.4 335.1 L408.4 335.5 L409.2 336.1 L410.0 336.9 L410.9 337.3 L412.0 337.5 L412.8 338.3 L413.1 339.2 L413.8 339.9 L414.7 340.8 L414.1 342.0 L413.8 343.1 L414.7 343.9 L415.3 344.9 L414.9 346.1 L415.8 346.7 L416.8 346.8 L417.8 347.2 L418.6 347.9 L419.5 348.4 L420.5 348.6 L421.5 348.9 L422.2 349.8 L423.0 350.5 L424.2 350.2 L425.3 350.5 L425.6 351.9 L426.4 352.6 L427.7 352.4 L428.6 352.8 L429.0 354.0 L429.8 354.6 L430.9 354.8 L431.8 355.3 L432.4 356.1 L432.7 357.0 L433.3 357.8 L433.8 358.7 L433.8 359.8 L433.9 360.8 L434.9 361.5 L435.3 362.0 L436.0 362.8 L437.1 362.9 L438.0 361.8 L438.9 361.6 L440.0 362.3 L441.0 362.3 L442.0 361.6 L443.0 361.5 L444.0 361.7 L445.0 361.6 L446.0 361.3 L447.0 361.2 L448.0 361.4 L449.0 361.4 L449.9 360.7 L450.8 360.3 L452.0 360.7 L453.0 360.6 L453.6 359.4 L454.5 358.9 L455.7 359.4 L456.7 359.3 L457.4 358.3 L458.3 357.9 L459.4 358.0 L460.4 357.7 L461.2 357.2 L462.1 356.8 L463.1 356.7 L464.1 356.5 L465.0 355.9 L465.7 355.2 L466.9 355.2 L467.9 355.0 L468.4 353.7 L469.1 353.0 L470.5 353.3 L471.5 353.0 L472.0 351.7 L472.8 351.2 L474.0 351.2 L474.9 350.7 L475.6 349.9 L476.5 349.4 L477.5 349.1 L478.4 348.6 L479.1 347.8 L480.0 347.3 L481.0 347.0"/>
<path d="M435.0 362.5 L433.8 362.6 L433.4 363.8 L432.8 364.8 L431.6 364.9 L430.6 365.4 L430.1 366.3 L429.3 367.0 L428.3 367.4 L427.4 368.0 L426.7 368.8 L425.9 369.5 L424.9 369.8 L424.0 370.2 L423.3 371.1 L422.4 371.6 L421.2 371.3 L420.3 371.7 L419.7 372.9 L418.7 373.2 L417.5 373.0 L416.6 373.5 L415.9 374.4 L415.0 374.7 L413.9 374.9 L413.6 376.0 L413.5 377.0 L413.2 378.0 L412.6 378.9 L412.4 380.0 L413.2 380.7 L413.5 381.6 L413.4 382.7 L413.8 383.5 L414.9 384.0 L415.5 385.1 L414.0 385.5 L413.3 386.3 L413.0 387.5 L412.1 388.1 L411.1 388.6 L410.5 389.5 L409.8 390.3 L409.0 391.0 L408.9 392.0 L409.2 393.0 L409.6 394.0 L409.5 395.0 L409.1 396.1 L409.6 397.0 L410.4 397.9 L410.0 399.0 L409.4 399.9 L409.4 400.8 L409.2 402.0 L408.3 402.6 L407.5 403.3 L407.2 404.3 L406.7 405.2 L406.0 406.0 L405.0 405.7 L404.0 405.7 L403.0 405.6 L402.0 405.1 L401.0 405.0"/>
<path d="M222.5 325.0 L223.7 325.3 L224.3 324.3 L225.0 323.3 L226.1 323.5 L227.2 323.6 L228.0 322.9 L228.8 322.2 L229.8 322.0 L230.7 321.9 L231.6 321.4 L232.4 320.8 L233.4 320.4 L234.5 320.3 L235.3 319.5 L236.0 318.5 L237.2 318.6 L238.4 318.6 L239.0 317.3 L239.7 316.5 L241.0 316.9 L242.0 316.7 L242.7 315.7 L243.7 315.3 L244.7 315.2 L245.7 314.9 L246.5 314.3 L247.4 313.9 L248.3 313.4 L249.1 312.7 L249.4 311.7 L249.9 310.8 L251.1 310.6 L252.0 310.0 L252.0 308.7 L252.5 307.8 L253.9 307.7 L254.7 307.1 L254.9 305.8 L255.8 305.3 L256.9 305.4 L257.9 305.0 L258.7 304.4 L259.6 304.0 L260.7 303.8 L261.6 303.5 L262.5 302.8 L263.6 303.1 L264.2 304.1 L265.1 304.7 L266.4 304.2 L267.4 304.6 L267.9 305.9 L268.9 306.3 L270.0 305.9 L270.7 305.6 L271.9 305.7 L272.7 305.1 L273.4 304.4 L274.3 304.0 L275.3 303.7 L276.2 303.3 L277.0 302.6 L277.7 302.1 L278.8 301.7 L279.5 301.0 L279.6 299.6 L280.3 298.9 L281.7 298.7 L282.2 297.8 L282.5 296.3 L283.6 297.2 L284.0 298.3 L284.9 298.7 L285.8 299.0 L286.3 298.4 L287.0 297.7 L287.5 296.9 L287.9 296.0 L288.4 295.2 L289.3 294.6 L289.8 294.0 L290.7 293.8 L291.7 293.9 L292.3 295.0 L293.1 295.6 L294.3 295.1 L295.3 295.1 L296.0 296.1 L297.1 295.6 L297.5 294.3 L298.4 293.5 L299.1 294.3 L299.9 294.8 L300.8 295.2 L301.6 295.6 L302.3 296.3 L303.0 297.1 L304.1 296.9 L305.1 296.6 L306.0 297.3 L306.8 298.1 L307.9 297.7 L308.2 296.4 L309.4 296.3 L310.6 296.1 L311.0 295.1 L311.7 294.0 L312.7 294.4 L313.7 294.6 L314.6 294.5 L315.6 294.3 L316.5 294.3 L317.3 293.9 L317.9 293.2 L318.3 292.3 L318.9 291.6 L320.0 291.3 L320.5 291.0 L321.4 290.9 L322.4 291.2 L322.7 292.5 L323.5 293.5 L324.5 292.4 L325.4 291.8 L326.5 292.1 L327.5 291.9 L328.4 291.2 L329.3 290.8 L330.4 290.6 L331.4 290.2 L332.2 289.5 L333.2 289.1 L334.4 289.2 L335.3 288.8 L336.2 287.5 L337.2 288.1 L337.8 289.3 L338.8 289.5 L340.0 289.0 L340.9 289.5 L341.6 290.5 L342.7 290.7 L343.1 289.6 L343.9 288.9 L344.7 288.2 L345.3 287.4 L345.8 286.5 L346.5 285.7 L347.5 285.3 L348.3 285.1 L349.2 284.4 L350.1 284.4 L351.1 285.2 L352.1 285.1 L353.0 284.1 L353.9 283.9 L354.9 284.7 L355.9 284.7 L356.8 284.0 L357.6 283.5 L358.6 283.3 L359.5 282.8 L360.3 282.1 L361.1 281.6 L362.1 281.3 L363.1 280.9 L363.7 280.0 L364.5 279.3 L365.7 279.7 L366.7 279.6 L367.3 278.5 L368.1 277.8 L369.3 278.2 L370.3 278.3 L371.0 277.3 L372.1 277.3 L373.1 278.0 L374.2 278.3 L374.9 277.3 L375.7 276.5 L376.7 276.0 L377.6 275.9 L378.6 275.5 L379.6 275.6 L380.7 276.3 L381.7 276.0 L382.7 275.2 L383.6 275.6 L384.8 275.4 L385.1 274.3 L385.2 273.1 L386.1 272.5 L387.0 272.0 L387.4 271.0 L388.2 270.4 L389.1 270.1 L390.1 269.8 L390.9 269.3 L391.6 268.6 L392.5 268.2 L393.6 268.2 L394.5 267.7 L395.0 266.5 L396.0 266.3 L397.3 266.8 L398.2 266.1 L398.8 264.9 L399.9 264.9 L401.0 265.0 L401.9 264.4 L402.7 263.7 L403.7 263.5 L404.8 263.2 L405.5 262.6 L406.2 261.9 L407.0 261.4 L408.0 261.3 L408.8 260.7 L409.2 259.6 L410.0 259.1 L411.3 259.3 L412.0 258.9 L412.7 257.8 L413.6 257.5 L414.8 258.2 L415.7 258.1 L416.6 257.3 L417.6 257.1 L418.6 257.2 L419.6 257.1 L420.5 256.8"/>
<path d="M323.6 292.9 L323.3 294.0 L324.1 294.8 L324.9 295.6 L324.7 296.7 L324.6 297.8 L325.2 298.6 L325.7 299.5 L325.7 300.5 L325.9 301.5 L325.8 302.5 L325.8 303.5 L325.5 304.4 L325.0 305.3 L325.0 306.3 L325.4 307.4 L324.9 308.3 L324.0 309.1 L324.2 310.2 L324.8 311.3 L324.3 312.2 L323.6 313.2 L323.9 314.2 L324.1 315.3 L323.7 316.3 L323.5 317.3 L323.9 318.2 L324.4 319.0 L324.7 319.9 L324.8 320.9 L325.2 321.7 L326.0 322.5 L326.4 323.3 L326.1 324.5 L326.4 325.3 L327.4 326.1 L327.7 327.0 L327.2 328.1 L327.3 329.1 L328.1 329.9 L328.5 330.8 L328.3 331.9 L328.5 332.8 L328.9 333.7 L329.2 334.7 L329.4 335.7 L329.6 336.6 L330.1 337.5 L330.7 338.4 L330.6 339.4 L329.6 339.6 L329.2 340.7 L328.7 341.7 L327.6 341.7 L326.5 341.6 L325.7 342.6 L324.9 343.3 L323.7 343.1 L322.7 343.4 L321.9 344.0 L321.0 344.4 L319.9 344.6 L318.9 344.9 L319.0 346.0 L319.1 347.0 L318.6 348.0 L318.2 349.0 L318.8 350.0 L319.0 351.0 L318.1 352.0 L317.8 353.0 L318.4 354.0 L318.5 355.0 L318.0 356.0"/>
<path d="M330.7 339.4 L331.1 340.6 L332.4 340.5 L333.6 340.7 L334.0 341.9 L334.7 342.8 L335.8 342.9 L336.7 343.4 L337.4 344.3 L338.2 344.9 L339.2 345.3 L340.1 345.8 L340.6 346.9 L341.3 347.6 L342.6 347.8 L343.4 348.4 L343.4 349.9 L344.3 350.5 L345.8 350.4 L346.4 351.3 L346.5 352.6 L347.6 353.1 L348.7 353.3 L349.3 354.3 L349.9 355.2 L351.0 355.3 L352.0 355.3 L353.0 355.7 L353.9 356.3 L355.0 356.2 L356.1 356.0 L357.0 356.8 L357.8 357.7 L359.0 357.1 L360.3 356.8 L360.7 358.3 L361.3 359.2 L362.6 359.2 L363.6 359.7 L364.1 360.8 L364.9 361.4 L365.9 361.8 L366.7 362.4 L367.4 363.2 L368.2 363.9 L369.4 364.1 L370.2 364.9 L369.2 365.8 L369.0 366.8 L369.7 368.0 L369.2 368.9 L367.8 369.5 L367.7 370.5 L368.3 371.7 L367.8 372.7 L366.5 372.9 L365.8 373.6 L365.2 374.5 L364.3 375.1 L363.3 375.5 L362.6 376.2 L362.0 377.1 L361.1 377.6 L360.4 378.4 L360.5 379.4 L361.4 380.4 L361.1 381.4 L360.0 382.2 L360.0 383.2 L360.9 384.3 L360.8 385.2 L359.9 386.1 L359.8 387.1 L360.2 388.1 L360.2 388.9 L360.8 389.7 L361.6 390.3 L362.6 390.7 L363.5 391.2 L364.0 392.1 L364.8 392.8 L366.0 392.9 L366.9 393.4 L367.0 394.8 L367.7 395.6 L369.2 395.4 L370.0 396.0 L370.1 397.4 L370.9 398.0 L372.1 398.2 L372.8 398.9 L373.4 399.8 L374.2 400.4 L375.1 400.9 L375.8 401.5 L376.4 402.5 L377.1 403.1 L378.2 403.3 L379.0 403.9 L379.2 405.3 L379.9 406.0 L381.4 405.8 L382.1 406.4 L382.3 407.9 L383.4 408.2 L384.6 407.7 L385.6 408.2 L386.4 408.9 L387.5 409.0"/>
<path d="M325.0 417.5 L325.3 419.7 L327.0 418.1 L328.6 417.0 L329.0 419.0 L329.6 420.3 L331.0 419.5 L332.2 419.4 L333.0 420.3 L333.9 421.0 L335.0 420.9 L336.3 421.2 L336.5 422.7 L336.7 424.1 L338.8 423.3 L340.2 423.4 L339.2 426.2 L339.8 427.2 L342.5 425.8 L343.2 426.7 L342.7 428.9 L343.8 429.3 L345.3 428.9 L346.1 429.7 L346.5 430.9 L347.3 431.5 L348.6 431.6 L349.5 432.1 L349.6 433.7 L350.2 434.6 L352.3 433.5 L352.9 433.6 L353.6 436.1 L354.7 436.5 L355.4 433.8 L356.3 433.0 L357.6 435.0 L358.6 435.5 L359.5 434.1 L360.4 433.6 L361.5 434.1 L362.6 434.4 L363.6 433.8 L364.5 433.0 L365.7 433.6 L367.0 434.4 L367.7 432.7 L368.6 431.2 L370.0 433.3 L370.3 434.2 L372.0 433.0 L373.6 433.2 L372.5 435.1 L372.2 436.5 L373.8 436.7 L374.9 437.1 L374.9 438.3 L375.1 439.4 L375.9 440.1 L377.1 440.5 L377.5 441.6 L377.2 443.1 L378.5 443.5 L380.6 443.1 L380.2 444.9 L377.9 445.7 L379.6 447.1 L381.3 448.5 L379.1 449.3 L377.8 450.1 L379.1 451.5 L379.2 452.0 L379.6 451.9 L380.6 451.6 L381.1 450.6 L381.5 449.6 L382.6 449.3 L384.1 449.5 L384.4 448.4 L385.6 446.2 L385.6 448.5 L383.4 450.0 L385.2 450.8 L387.5 451.5 L385.8 452.9 L385.6 455.3 L386.5 453.1 L386.2 451.9 L387.2 451.3 L388.2 450.6 L388.3 449.6 L388.3 448.5 L388.8 447.6 L390.2 447.2 L390.0 446.7 L391.5 446.3 L392.0 447.2 L390.4 449.5 L391.1 450.2 L394.1 449.6 L394.3 450.7 L392.9 452.9 L393.8 453.5 L395.4 453.4 L396.1 453.7 L396.9 454.7 L397.9 454.8 L399.0 454.5 L400.0 454.5 L401.1 455.1 L402.2 455.3 L402.9 453.6 L403.5 452.7 L405.2 454.0 L406.7 454.6 L406.5 452.3 L408.5 451.6 L408.1 453.6 L408.0 455.5 L409.6 455.1 L411.0 454.5 L411.6 455.5 L412.3 456.5 L413.4 456.6 L414.5 456.5 L415.3 457.0 L416.6 457.6 L417.5 456.9 L417.9 454.8 L419.4 455.4 L419.3 457.9 L421.4 456.8 L423.3 456.1 L422.8 458.9 L423.6 459.9 L425.4 458.9 L426.4 459.4 L426.7 460.8 L427.6 461.4 L428.8 461.4 L429.8 461.8 L430.3 463.0 L431.0 463.9 L432.3 463.1 L432.3 462.1 L434.4 463.3 L435.8 463.4 L435.1 460.7 L435.3 459.3 L437.5 460.6 L438.9 460.7 L438.6 458.7 L439.3 457.6 L440.9 457.9 L441.9 457.3 L442.5 456.1 L443.5 455.4 L444.7 456.3 L445.8 456.2 L446.8 454.5 L447.9 455.1 L449.0 457.4 L450.1 456.3 L451.1 453.8 L452.2 455.2 L452.4 457.1 L453.8 456.8 L455.2 457.4 L454.9 458.9"/>
</g>
</g>
<path d="M10.5 154.0 L35.0 140.0 L61.0 124.5 L80.0 112.4 L86.6 107.4 L95.9 104.7 L96.4 101.4 L95.9 99.2 L97.5 97.3 L100.8 96.8 L103.0 97.9 L103.5 102.0 L122.1 96.5 L123.8 98.7 L123.5 101.4 L124.9 103.6 L121.0 108.0 L123.2 110.2 L122.1 111.8 L123.8 114.5 L125.4 117.3 L128.1 119.5 L129.8 120.6 L130.3 122.7 L132.5 123.8 L142.9 123.1 L142.4 114.5 L145.1 114.0 L145.6 112.9 L148.4 112.3 L152.3 110.7 L159.4 115.0 L165.7 116.6 L173.6 118.9 L179.1 121.3 L179.6 130.0 L183.1 131.5 L189.4 130.8 L191.8 129.2 L192.2 132.3 L194.9 133.1 L198.9 130.0 L205.2 126.0 L209.1 124.4 L214.6 122.9 L220.0 120.5 L231.0 111.0 L239.0 101.0 L236.0 97.5 L251.0 96.0 L252.5 99.5 L261.0 100.0 L264.5 97.5 L260.0 89.0 L261.0 82.0 L257.5 79.5 L265.0 76.0 L279.5 73.7 L280.5 77.5 L278.0 85.0 L280.0 85.6 L284.4 83.8 L292.5 86.2 L296.2 85.0 L296.2 81.9 L300.6 77.5 L305.0 72.5 L307.5 69.4 L310.6 68.5 L315.6 70.6 L316.9 72.5 L319.8 73.8 L319.8 78.1 L318.1 81.9 L319.4 85.0 L315.0 84.0 L311.0 84.2 L310.3 86.3 L313.0 88.5 L318.0 87.5 L323.0 88.0 L326.2 86.2 L330.0 91.9 L335.0 86.9 L341.2 81.2 L341.9 75.6 L345.0 72.2 L346.9 75.0 L351.9 75.6 L355.0 83.1 L350.6 92.5 L356.2 98.8 L360.0 105.0 L360.0 108.8 L366.0 107.0 L372.5 110.0 L373.8 118.8 L386.2 119.4 L387.5 116.9 L396.9 120.0 L400.0 115.6 L403.8 114.4 L405.6 111.5 L410.0 112.5 L416.2 119.4 L416.5 128.1 L428.1 132.8 L429.8 136.2 L435.6 136.9 L441.2 135.0 L445.0 136.9 L446.2 143.1 L451.9 139.8 L456.2 144.4 L452.5 148.1 L450.0 151.2 L453.1 153.8 L452.5 155.6 L448.8 156.9 L449.4 161.2 L446.2 162.5 L448.8 165.0 L443.8 170.0 L445.0 176.0 L441.2 180.0 L438.8 183.8 L443.1 185.0 L441.9 189.4 L439.4 194.4 L435.6 195.6 L433.8 200.0 L428.8 203.8 L428.1 208.8 L430.6 213.8 L435.6 216.2 L436.2 221.2 L434.4 227.5 L438.8 226.9 L443.1 226.2 L446.2 221.9 L449.4 225.6 L453.1 227.5 L457.5 226.2 L461.9 224.4 L463.1 227.5 L467.5 227.5 L471.9 225.6 L475.0 227.5 L481.2 228.1 L483.1 235.0 L492.5 233.8 L496.2 238.8 L498.8 243.0 L502.0 247.0 L502.0 253.6 L514.0 253.6 L511.9 260.0 L502.0 270.0 L505.3 276.6 L509.7 282.0 L518.4 281.0 L526.1 283.0 L526.1 289.7 L529.4 291.9 L529.4 298.4 L529.4 300.0 L528.1 303.8 L525.6 306.9 L530.0 311.9 L533.8 314.4 L535.0 317.5 L532.5 319.4 L528.8 322.5 L524.4 318.8 L521.2 320.6 L518.8 325.6 L518.1 329.4 L513.8 331.9 L508.1 334.4 L505.6 337.5 L502.5 340.6 L504.4 343.8 L505.6 349.4 L500.0 351.2 L500.6 355.6 L500.0 359.4 L496.9 360.0 L495.6 357.5 L497.5 355.6 L496.2 352.5 L493.1 352.8 L490.0 352.5 L488.8 355.0 L485.0 353.8 L483.1 350.0 L475.6 351.0 L474.4 356.2 L472.5 361.2 L467.5 364.0 L463.8 372.5 L460.0 377.5 L461.0 384.0 L456.0 389.0 L457.5 394.0 L450.0 399.0 L445.0 412.5 L450.0 416.0 L445.2 425.0 L446.8 433.0 L452.5 434.7 L455.7 441.2 L458.2 447.6 L463.8 449.2 L466.2 452.5 L463.0 458.1 L468.7 462.2 L467.9 467.0 L463.8 471.8 L461.4 476.7 L464.6 479.9 L460.6 484.8 L456.5 486.4 L450.1 483.2 L446.8 487.2 L442.8 488.8 L434.7 486.4 L429.9 489.6 L428.3 495.3 L424.2 492.0 L420.2 491.2 L413.7 495.3 L408.9 497.7 L405.7 492.9 L406.5 488.8 L403.2 484.8 L404.0 479.9 L400.0 473.5 L391.5 470.8 L386.1 473.5 L387.0 469.0 L387.9 464.6 L383.5 461.0 L378.1 457.5 L366.6 456.6 L364.8 453.0 L360.4 451.3 L358.6 445.9 L355.1 441.5 L348.8 439.7 L344.4 437.1 L341.7 433.5 L335.5 434.0 L329.3 436.5 L323.1 435.3 L324.9 430.0 L323.1 425.5 L322.2 419.3 L326.6 413.1 L326.6 408.6 L322.2 402.4 L315.1 399.8 L314.4 396.0 L317.2 388.4 L320.0 382.8 L319.0 376.2 L324.7 372.5 L323.8 366.9 L327.5 362.2 L325.6 358.4 L317.2 356.6 L310.6 363.0 L303.1 369.7 L298.4 376.2 L300.3 392.2 L278.8 396.9 L276.9 400.6 L266.6 403.8 L260.0 401.6 L253.4 401.6 L245.0 398.8 L232.8 400.6 L231.0 397.8 L225.3 395.0 L224.4 387.5 L228.1 381.0 L235.6 377.2 L234.7 370.6 L231.9 364.0 L223.4 362.2 L224.4 356.6 L227.2 351.9 L226.2 344.4 L229.0 340.0 L235.3 334.7 L229.7 329.6 L226.0 330.0 L227.8 334.7 L225.0 334.7 L222.2 330.0 L220.3 325.3 L213.8 319.7 L209.0 314.4 L200.6 315.9 L195.0 318.8 L189.4 319.7 L184.7 315.0 L174.4 315.0 L169.7 316.9 L167.8 324.4 L165.0 322.5 L161.2 316.9 L158.4 310.3 L160.3 303.8 L159.4 294.4 L156.2 289.7 L152.3 284.1 L143.6 283.4 L137.3 284.9 L139.7 281.8 L140.5 277.8 L134.2 276.3 L131.8 280.2 L127.9 281.8 L120.8 284.1 L116.0 281.0 L110.5 277.8 L107.7 272.3 L107.4 262.9 L105.0 256.5 L102.6 247.9 L105.8 243.9 L105.8 240.8 L104.2 237.6 L99.5 236.8 L97.1 232.9 L93.2 225.0 L90.7 220.5 L86.0 219.2 L82.8 222.8 L80.5 221.7 L76.5 222.8 L71.0 225.2 L64.0 229.0 L61.5 233.0 L57.2 239.6 L52.3 237.6 L47.3 234.7 L42.4 232.7 L40.4 227.8 L36.5 222.8 L34.5 217.9 L29.6 214.0 L21.7 212.0 L19.7 208.0 L16.8 204.1 L18.7 200.2 L18.7 194.2 L15.8 190.9 L20.7 186.4 L19.7 182.4 L16.8 177.5 L13.8 171.6 L13.4 161.7Z" fill="none" stroke="#222" stroke-width="1.65" stroke-linejoin="round"/>
<ellipse cx="332" cy="82" rx="3.3" ry="3.3" fill="#222" transform="rotate(-40 332 82)"/>
<rect x="563" y="96.00" width="26" height="39.90" fill="#a50026"/>
<rect x="563" y="135.60" width="26" height="39.90" fill="#da372a"/>
<rect x="563" y="175.20" width="26" height="39.90" fill="#f67b4a"/>
<rect x="563" y="214.80" width="26" height="39.90" fill="#fdbf71"/>
<rect x="563" y="254.40" width="26" height="39.90" fill="#feeea5"/>
<rect x="563" y="294.00" width="26" height="39.90" fill="#eef8df"/>
<rect x="563" y="333.60" width="26" height="39.90" fill="#bde2ee"/>
<rect x="563" y="373.20" width="26" height="39.90" fill="#80b7d6"/>
<rect x="563" y="412.80" width="26" height="39.90" fill="#4a7bb7"/>
<rect x="563" y="452.40" width="26" height="39.60" fill="#313695"/>
<text x="600.9" y="101.8" font-size="14.67">13</text>
<text x="600.9" y="141.3" font-size="14.67">12.5</text>
<text x="600.9" y="180.7" font-size="14.67">12</text>
<text x="600.9" y="220.2" font-size="14.67">11.5</text>
<text x="600.9" y="259.7" font-size="14.67">11</text>
<text x="600.9" y="299.1" font-size="14.67">10.5</text>
<text x="600.9" y="338.6" font-size="14.67">10</text>
<text x="600.9" y="378.1" font-size="14.67">9.5</text>
<text x="600.9" y="417.6" font-size="14.67">9</text>
<text x="600.9" y="457.0" font-size="14.67">8.5</text>
<text x="600.9" y="496.5" font-size="14.67">8</text>
<text x="616.8" y="73.7" font-size="14.67" font-weight="bold">°C</text>
<text x="78.6" y="30.8" font-size="14.72" font-weight="bold">Gemiddelde temperatuur</text>
<text x="77.3" y="51.4" font-size="13">gemiddelde 2025</text>
<g fill="#0050ff">
<path d="M7 5 L20 5 C25 9 29 17 29 24 C29 34 26 38 22 45 C21 48 20.8 51 20.5 53.6 L7 53.6Z"/>
<path d="M56 8 C50 9 45 15 42.5 21 C41 26 41.5 30 38 35 C34 40 28 45 24.3 53.6 L56 53.6Z"/>
</g>
<text x="4.4" y="70.4" font-size="20.6" style="fill:#0050ff" textLength="55.4" lengthAdjust="spacingAndGlyphs">KMI</text>
</svg></body></html>
